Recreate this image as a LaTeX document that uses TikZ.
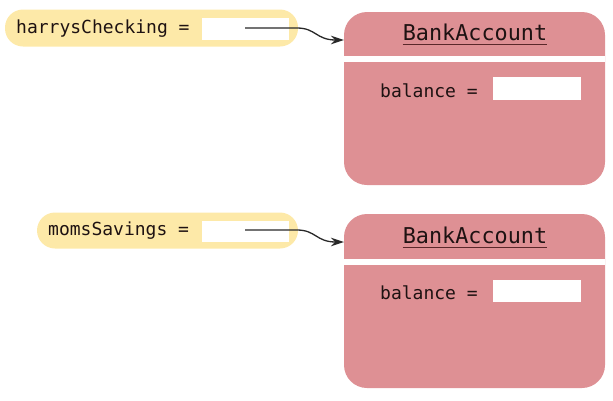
\documentclass[tikz,border=0pt]{standalone}
\usepackage{fontspec}
\setmonofont{DejaVu Sans Mono}
\usetikzlibrary{arrows.meta}
\definecolor{pillc}{RGB}{253,233,168}
\definecolor{acctc}{RGB}{222,144,148}
\definecolor{txtc}{RGB}{30,18,18}
\definecolor{ulc}{RGB}{90,40,42}
\definecolor{arrc}{RGB}{40,40,40}
\tikzset{
  pill/.style={fill=pillc, draw=none, rounded corners=18pt, inner sep=0pt},
  slot/.style={fill=white, draw=none, inner sep=0pt},
  acct/.style={fill=acctc, draw=none, rounded corners=23pt, inner sep=0pt},
  lbl/.style={inner sep=0pt, text=txtc, font=\ttfamily\fontsize{18}{20}\selectfont},
  hdr/.style={inner sep=0pt, text=txtc, font=\ttfamily\fontsize{21.8}{24}\selectfont},
  uline/.style={draw=ulc, line width=1.6pt},
  ref/.style={draw=arrc, line width=1.3pt, -{Stealth[length=13pt,width=8.5pt]}}
}
\begin{document}
\begin{tikzpicture}[x=1pt,y=-1pt]
\useasboundingbox (0,0) rectangle (613,400);
% top
\node[pill, minimum width=293pt, minimum height=37pt] (p1) at (151.5,28) {};
\node[slot, minimum width=87pt, minimum height=22pt] (s1) at (245.5,29) {};
\node[lbl, anchor=base west] (l1) at (16,33.5) {harrysChecking =};
\node[acct, minimum width=261pt, minimum height=173pt] (b1) at (474.5,98.5) {};
\fill[white] (344,56) rectangle (605,62);
\node[hdr, anchor=base] (h1) at (475,40) {BankAccount};
\draw[uline] ([yshift=-4.5pt]h1.base west) -- ([yshift=-4.5pt]h1.base east);
\node[lbl, anchor=base west] (bl1) at (380,97) {balance =};
\node[slot, minimum width=88pt, minimum height=23pt] (v1) at (537,88.5) {};
\coordinate (a1) at (245,28);
\coordinate (k1) at (297,28);
\coordinate (e1) at (344,40);
\draw[ref] (a1) -- (k1) .. controls (316,28) and (316,40) .. (e1);
% bottom
\node[pill, minimum width=261pt, minimum height=36pt] (p2) at (167.5,230.5) {};
\node[slot, minimum width=87pt, minimum height=21pt] (s2) at (245.5,231.5) {};
\node[lbl, anchor=base west] (l2) at (48,235.5) {momsSavings =};
\node[acct, minimum width=261pt, minimum height=174pt] (b2) at (474.5,301) {};
\fill[white] (344,259) rectangle (605,265);
\node[hdr, anchor=base] (h2) at (475,243) {BankAccount};
\draw[uline] ([yshift=-4.5pt]h2.base west) -- ([yshift=-4.5pt]h2.base east);
\node[lbl, anchor=base west] (bl2) at (380,299) {balance =};
\node[slot, minimum width=88pt, minimum height=22pt] (v2) at (537,291) {};
\coordinate (a2) at (245,230);
\coordinate (k2) at (297,230);
\coordinate (e2) at (344,242);
\draw[ref] (a2) -- (k2) .. controls (316,230) and (316,242) .. (e2);
\end{tikzpicture}
\end{document}
